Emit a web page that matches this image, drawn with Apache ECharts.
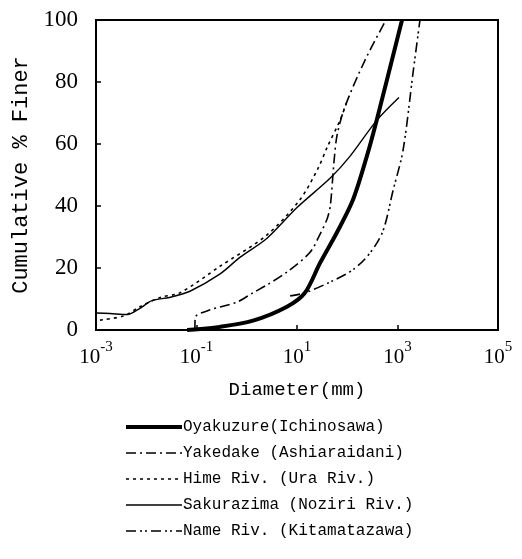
<!DOCTYPE html>
<html>
<head>
<meta charset="utf-8">
<script src="https://cdn.jsdelivr.net/npm/echarts@6/dist/echarts.min.js"></script>
<style>
  html, body { margin: 0; padding: 0; background: #fff; }
  #main { width: 522px; height: 559px; }
</style>
</head>
<body>
<div id="main"></div>
<script>
// grain size curves: [diameter mm, cumulative % finer]
var oyakuzure = [[0.065, 0], [0.29, 1], [1.33, 3], [6.3, 7.5], [14.4, 12], [28.7, 21.6], [63, 31.6], [130, 42], [245, 56], [390, 68], [1230, 100]];
var yakedake = [[0.093, 0], [0.094, 4], [0.186, 6.5], [0.64, 9], [1.33, 12], [2.5, 14.5], [6.3, 18.7], [18, 25], [29, 31], [40, 36], [46, 40], [55, 55], [63, 63], [90, 72], [225, 87], [590, 100]];
var hime = [[0.0012, 3.2], [0.0035, 4.5], [0.0075, 7.5], [0.019, 10.5], [0.047, 12], [0.29, 20.5], [2.5, 30.6], [11.4, 42], [26, 52], [40, 59], [72, 67.7], [100, 74]];
var sakurazima = [[0.001, 5.5], [0.0019, 5.3], [0.0042, 5], [0.0075, 7], [0.013, 9.5], [0.029, 10.5], [0.074, 12.5], [0.29, 18], [0.74, 23.5], [2.5, 29.5], [10, 39.5], [46, 49], [113, 56], [390, 67.7], [1070, 75]];
var nameRiv = [[7.3, 11], [14.5, 12], [46, 15.5], [129, 19.4], [283, 24.8], [515, 32], [815, 45], [1290, 58], [2040, 83], [2800, 100]];

var names = ['Oyakuzure(Ichinosawa)', 'Yakedake (Ashiaraidani)', 'Hime Riv. (Ura Riv.)', 'Sakurazima (Noziri Riv.)', 'Name Riv. (Kitamatazawa)'];
var widths = [4, 1.6, 1.6, 1.4, 1.6];
var dashes = ['solid', [10, 4, 2, 4], [3, 4], 'solid', [10, 4, 2, 3, 2, 4]];

var myChart = echarts.init(document.getElementById('main'));

function line(i, data) {
    return {
        name: names[i],
        type: 'line',
        data: data,
        symbol: 'none',
        smooth: 0.3,
        lineStyle: { color: '#000', width: widths[i], type: dashes[i] },
        itemStyle: { color: '#000' }
    };
}

myChart.setOption({
    backgroundColor: '#fff',
    animation: false,
    grid: {
        left: 96, right: 24, top: 20, bottom: 229,
        show: true, borderColor: '#000', borderWidth: 2
    },
    legend: {
        orient: 'vertical',
        left: 119,
        top: 414,
        itemWidth: 56,
        itemHeight: 10,
        itemGap: 10,
        itemStyle: { opacity: 0 },
        data: names.map(function (n, i) {
            return { name: n, lineStyle: { width: widths[i], type: dashes[i], color: '#000' } };
        }),
        textStyle: { fontFamily: 'Liberation Mono', fontSize: 16, color: '#000', padding: [0, 0, 0, -4] }
    },
    xAxis: {
        type: 'log',
        logBase: 10,
        min: 0.001,
        max: 100000,
        interval: 2,
        name: 'Diameter(mm)',
        nameLocation: 'middle',
        nameGap: 50,
        nameTextStyle: { fontFamily: 'Liberation Mono', fontSize: 19, color: '#000' },
        axisLine: { lineStyle: { color: '#000', width: 2 } },
        axisTick: { inside: true, length: 5, lineStyle: { color: '#000', width: 1.5 } },
        splitLine: { show: false },
        minorTick: { show: false },
        axisLabel: {
            margin: 10,
            formatter: function (v) {
                var e = Math.round(Math.log10(v));
                return '{b|10}{s|' + e + '}';
            },
            rich: {
                b: { fontFamily: 'Liberation Serif', fontSize: 21, color: '#000', lineHeight: 28, verticalAlign: 'bottom' },
                s: { fontFamily: 'Liberation Serif', fontSize: 15, color: '#000', lineHeight: 28, verticalAlign: 'top' }
            }
        }
    },
    yAxis: {
        type: 'value',
        min: 0,
        max: 100,
        interval: 20,
        name: 'Cumulative % Finer',
        nameLocation: 'middle',
        nameGap: 62,
        nameTextStyle: { fontFamily: 'Liberation Mono', fontSize: 22, color: '#000' },
        axisLine: { lineStyle: { color: '#000', width: 2 } },
        axisTick: { inside: true, length: 5, lineStyle: { color: '#000', width: 1.5 } },
        splitLine: { show: false },
        axisLabel: { margin: 18, fontFamily: 'Liberation Serif', fontSize: 23, color: '#000' }
    },
    series: [
        line(0, oyakuzure),
        line(1, yakedake),
        line(2, hime),
        line(3, sakurazima),
        line(4, nameRiv)
    ]
});
</script>
</body>
</html>
